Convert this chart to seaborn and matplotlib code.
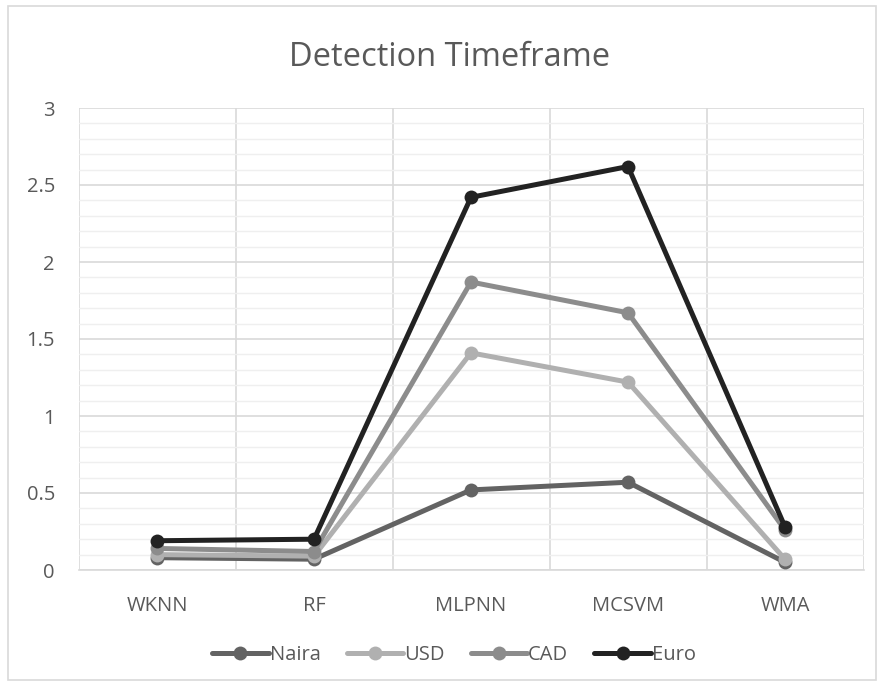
import matplotlib
matplotlib.use("Agg")
import matplotlib.pyplot as plt
import seaborn as sns
import pandas as pd
from matplotlib.ticker import MultipleLocator, FixedLocator, FuncFormatter

categories = ["WKNN", "RF", "MLPNN", "MCSVM", "WMA"]
naira = [0.08, 0.07, 0.52, 0.57, 0.05]
usd = [0.10, 0.09, 1.41, 1.22, 0.07]
cad = [0.14, 0.12, 1.87, 1.67, 0.26]
euro = [0.19, 0.20, 2.42, 2.62, 0.28]
series_names = ["Naira", "USD", "CAD", "Euro"]
colors = ["#636363", "#b0b0b0", "#8c8c8c", "#222222"]

rows = []
for name, vals in zip(series_names, [naira, usd, cad, euro]):
    for i, (c, v) in enumerate(zip(categories, vals)):
        rows.append({"Category": c, "pos": i, "Series": name, "Value": v})
df = pd.DataFrame(rows)

sns.set_theme(style="white")
plt.rcParams['font.family'] = ['Open Sans', 'DejaVu Sans']

fig = plt.figure(figsize=(8.77, 6.86), dpi=100)
ax = fig.add_axes([78.5/877, 1-570/686, 785/877, 462/686])

sns.lineplot(data=df, x="pos", y="Value", hue="Series", hue_order=series_names,
             palette=colors, marker="o", markersize=10, linewidth=3.6,
             markeredgewidth=0, sort=False, ax=ax, zorder=3)

ax.set_xlim(-0.5, 4.5)
ax.set_ylim(0, 3)
ax.set_xticks(range(len(categories)))
ax.set_xticklabels(categories)
ax.xaxis.set_minor_locator(FixedLocator([-0.5, 0.5, 1.5, 2.5, 3.5, 4.5]))
ax.yaxis.set_major_locator(MultipleLocator(0.5))
ax.yaxis.set_minor_locator(MultipleLocator(0.1))
ax.yaxis.set_major_formatter(FuncFormatter(lambda v, p: f"{v:g}"))
ax.grid(which="major", axis="y", color="#d9d9d9", linewidth=1.2)
ax.grid(which="minor", axis="y", color="#efefef", linewidth=1.0)
ax.grid(which="minor", axis="x", color="#d9d9d9", linewidth=1.2)
ax.grid(which="major", axis="x", visible=False)
ax.set_axisbelow(True)
ax.tick_params(axis="both", which="both", length=0, labelsize=14.5, labelcolor="#595959")
ax.tick_params(axis="y", pad=17)
ax.tick_params(axis="x", pad=19)
for s in ["top", "right", "left"]:
    ax.spines[s].set_visible(False)
ax.spines["bottom"].set_color("#d9d9d9")
ax.spines["bottom"].set_linewidth(1.2)
ax.set_xlabel("")
ax.set_ylabel("")

fig.text(450/877, 1-57/686, "Detection Timeframe", ha="center", va="center",
         fontsize=23.5, color="#595959")

handles, labels = ax.get_legend_handles_labels()
ax.legend_.remove()
fig.legend(handles, labels, loc="center", bbox_to_anchor=(454/877, 1-655/686),
           ncol=4, frameon=False, fontsize=14.5, labelcolor="#595959",
           handlelength=2.8, handletextpad=0.05, columnspacing=1.3)

border = plt.Rectangle((8/877, 6/686), 868/877, 674/686, transform=fig.transFigure,
                       fill=False, edgecolor="#d9d9d9", linewidth=1.2)
fig.patches.append(border)

fig.savefig("out.png", dpi=100, facecolor="white")
